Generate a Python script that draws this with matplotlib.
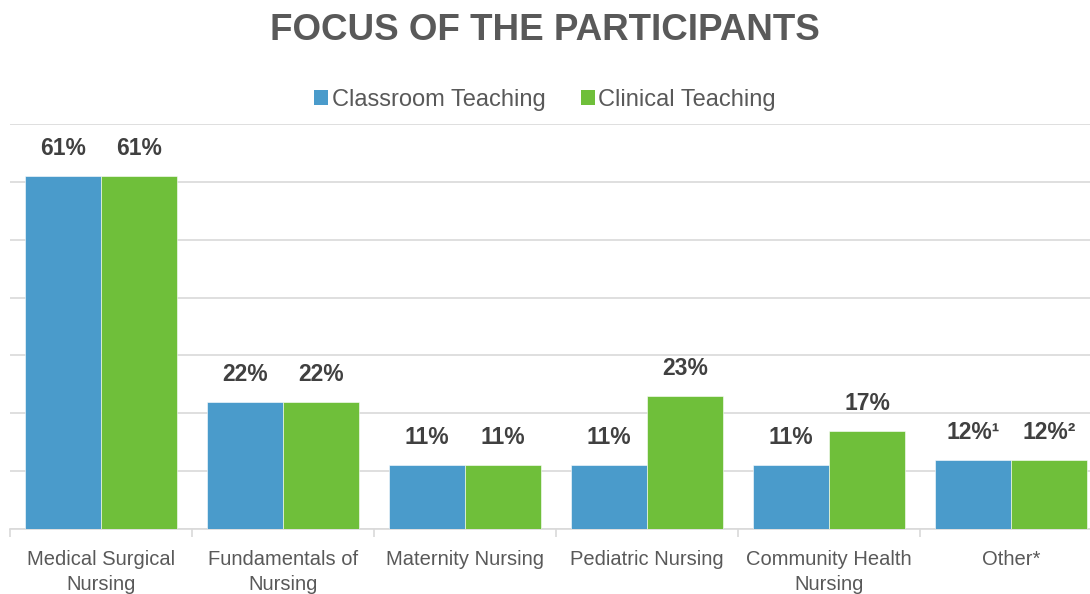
import numpy as np
import matplotlib.pyplot as plt
from matplotlib.patches import Patch

plt.rcParams['font.family'] = ['Liberation Sans', 'DejaVu Sans']

categories = ['Medical Surgical\nNursing', 'Fundamentals of\nNursing', 'Maternity Nursing',
              'Pediatric Nursing', 'Community Health\nNursing', 'Other*']
classroom = [61, 22, 11, 11, 11, 12]
clinical = [61, 22, 11, 23, 17, 12]
classroom_labels = ['61%', '22%', '11%', '11%', '11%', '12%\u00b9']
clinical_labels = ['61%', '22%', '11%', '23%', '17%', '12%\u00b2']

blue = '#4a9bcb'
green = '#6fbf3a'
text_gray = '#595959'

fig = plt.figure(figsize=(10.9, 5.94), dpi=100)
ax = fig.add_axes([10 / 1090, 65 / 594, 1092 / 1090, 405 / 594])

x = np.arange(len(categories))
w = 0.418
b1 = ax.bar(x - w / 2, classroom, w, color=blue, edgecolor='white', linewidth=0.4, zorder=3)
b2 = ax.bar(x + w / 2, clinical, w, color=green, edgecolor='white', linewidth=0.4, zorder=3)

for bars, labels in ((b1, classroom_labels), (b2, clinical_labels)):
    for bar, lab in zip(bars, labels):
        ax.annotate(lab, (bar.get_x() + bar.get_width() / 2, bar.get_height()),
                    xytext=(0, 11.5), textcoords='offset points', ha='center', va='bottom',
                    fontsize=16.5, fontweight='bold', color='#404040')

ax.set_xlim(-0.5, len(categories) - 0.5)
ax.set_ylim(0, 70)
ax.set_yticks(np.arange(0, 71, 10))
ax.yaxis.grid(True, color='#d9d9d9', linewidth=1.2, zorder=0)
ax.tick_params(axis='y', length=0, labelleft=False)

ax.set_xticks(x)
ax.set_xticklabels(categories, fontsize=14.5, color=text_gray, linespacing=1.4)
ax.set_xticks(np.arange(-0.5, len(categories), 1), minor=True)
ax.tick_params(axis='x', which='major', length=0, pad=15)
ax.tick_params(axis='x', which='minor', length=6, color='#d9d9d9', width=1.2)

for s in ('top', 'right', 'left'):
    ax.spines[s].set_visible(False)
ax.spines['bottom'].set_color('#d9d9d9')
ax.spines['bottom'].set_linewidth(1.2)

fig.text(0.5, 1 - 30 / 594, 'FOCUS OF THE PARTICIPANTS', ha='center', va='center',
         fontsize=26.5, fontweight='bold', color=text_gray)

handles = [Patch(facecolor=blue, label='Classroom Teaching'),
           Patch(facecolor=green, label='Clinical Teaching')]
fig.legend(handles=handles, loc='center', bbox_to_anchor=(0.5, 1 - 100 / 594), ncol=2,
           frameon=False, fontsize=17, handlelength=0.6, handleheight=0.6,
           handletextpad=0.15, columnspacing=1.5, labelcolor=text_gray)

fig.savefig('out.png', dpi=100)
